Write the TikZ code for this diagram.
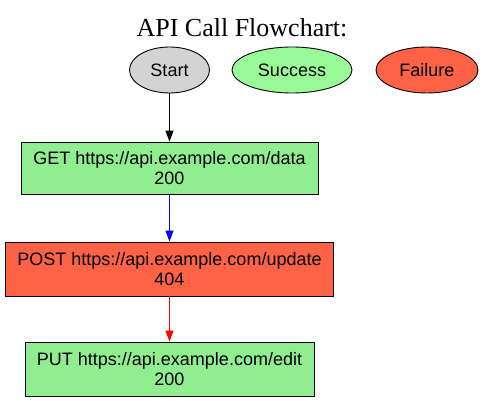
\documentclass[tikz,border=0pt]{standalone}
\usepackage{fontspec}
\setmainfont{Liberation Sans}
\newfontfamily\titlefont{Liberation Serif}
\usetikzlibrary{arrows.meta,shapes.geometric}
\definecolor{startgray}{HTML}{D3D3D3}
\definecolor{palegreen}{HTML}{98FB98}
\definecolor{lightgreen}{HTML}{90EE90}
\definecolor{tomato}{HTML}{FF6347}
\tikzset{
  oval/.style={draw=black, line width=0.9pt, ellipse, inner sep=0pt, font=\fontsize{18}{20}\selectfont},
  callbox/.style={draw=black, line width=0.9pt, rectangle, inner sep=0pt, align=center, font=\fontsize{18}{20}\selectfont},
  flow/.style={line width=1pt, -{Triangle[length=11pt,width=8pt]}},
}
\begin{document}
\begin{tikzpicture}[x=1pt,y=-1pt]
\useasboundingbox (0,0) rectangle (483,401);
\node[font=\titlefont\fontsize{26}{28}\selectfont] (title) at (242,28) {API Call Flowchart:};
\node[oval, fill=startgray, minimum width=80pt, minimum height=46pt] (start) at (169.5,70) {Start};
\node[oval, fill=palegreen, minimum width=120pt, minimum height=46pt] (success) at (292,70) {Success};
\node[oval, fill=tomato, minimum width=102pt, minimum height=46pt] (failure) at (427,70) {Failure};
\node[callbox, fill=lightgreen, minimum width=297pt, minimum height=52pt] (get) at (169.5,168) {GET https://api.example.com/data\\200};
\node[callbox, fill=tomato, minimum width=328pt, minimum height=54pt] (post) at (169.5,269) {POST https://api.example.com/update\\404};
\node[callbox, fill=lightgreen, minimum width=289pt, minimum height=54pt] (put) at (169.5,369) {PUT https://api.example.com/edit\\200};
\draw[flow, black] (start) -- (get);
\draw[flow, blue] (get) -- (post);
\draw[flow, red] (post) -- (put);
\end{tikzpicture}
\end{document}
